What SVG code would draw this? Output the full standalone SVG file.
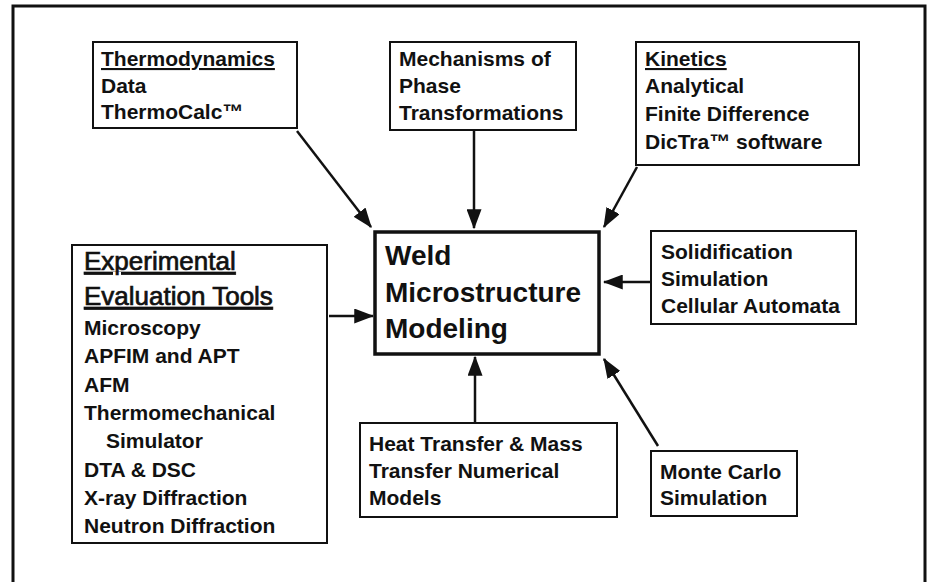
<svg xmlns="http://www.w3.org/2000/svg" width="931" height="582" viewBox="0 0 931 582">
<defs>
<style>
.box{fill:#fff;stroke:#111;stroke-width:2}
.main{fill:#fff;stroke:#111;stroke-width:3.5}
.t{font-family:"Liberation Sans",Arial,sans-serif;font-weight:bold;font-size:21px;fill:#111}
.big{font-family:"Liberation Sans",Arial,sans-serif;font-weight:bold;font-size:28px;fill:#111}
.hdr{font-family:"Liberation Sans",Arial,sans-serif;font-weight:normal;font-size:26px;fill:#111;stroke:#111;stroke-width:0.7}
.c{stroke:#111;stroke-width:2.5;fill:none;marker-end:url(#ah)}
</style>
<marker id="ah" markerWidth="8" markerHeight="6" refX="7.5" refY="3" orient="auto" markerUnits="strokeWidth">
<path d="M0,0 L8,3 L0,6 Z" fill="#111"/>
</marker>
</defs>
<rect width="931" height="582" fill="#fff"/>
<g id="frame">
<path d="M13,582 L13,6 L925,6 L925,582" fill="none" stroke="#111" stroke-width="3"/>
</g>
<g id="connectors">
<line class="c" x1="297" y1="131" x2="371" y2="227"/>
<line class="c" x1="474" y1="130" x2="474" y2="228"/>
<line class="c" x1="637" y1="167" x2="604" y2="227"/>
<line class="c" x1="651" y1="282" x2="604" y2="282"/>
<line class="c" x1="329" y1="316" x2="373" y2="316"/>
<line class="c" x1="475" y1="422" x2="475" y2="357"/>
<line class="c" x1="658" y1="446" x2="604" y2="359"/>
</g>
<g id="thermodynamics">
<rect class="box" x="93" y="42" width="204" height="86"/>
<text class="t" x="101" y="66" text-decoration="underline">Thermodynamics</text>
<text class="t" x="101" y="93">Data</text>
<text class="t" x="101" y="119">ThermoCalc™</text>
</g>
<g id="mechanisms">
<rect class="box" x="390" y="42" width="186" height="88"/>
<text class="t" x="399" y="66">Mechanisms of</text>
<text class="t" x="399" y="93">Phase</text>
<text class="t" x="399" y="120">Transformations</text>
</g>
<g id="kinetics">
<rect class="box" x="636" y="42" width="223" height="123"/>
<text class="t" x="645" y="66" text-decoration="underline">Kinetics</text>
<text class="t" x="645" y="93">Analytical</text>
<text class="t" x="645" y="121">Finite Difference</text>
<text class="t" x="645" y="149">DicTra™ software</text>
</g>
<g id="weld">
<rect class="main" x="375" y="232" width="224" height="122"/>
<text class="big" x="385" y="265">Weld</text>
<text class="big" x="385" y="302">Microstructure</text>
<text class="big" x="385" y="338">Modeling</text>
</g>
<g id="solidification">
<rect class="box" x="651" y="231" width="205" height="93"/>
<text class="t" x="661" y="259">Solidification</text>
<text class="t" x="661" y="286">Simulation</text>
<text class="t" x="661" y="313">Cellular Automata</text>
</g>
<g id="experimental">
<rect class="box" x="72" y="245" width="255" height="298"/>
<text class="hdr" x="84" y="270" text-decoration="underline">Experimental</text>
<text class="hdr" x="84" y="305" text-decoration="underline">Evaluation Tools</text>
<text class="t" x="84" y="335">Microscopy</text>
<text class="t" x="84" y="363">APFIM and APT</text>
<text class="t" x="84" y="392">AFM</text>
<text class="t" x="84" y="420">Thermomechanical</text>
<text class="t" x="106" y="448">Simulator</text>
<text class="t" x="84" y="477">DTA &amp; DSC</text>
<text class="t" x="84" y="505">X-ray Diffraction</text>
<text class="t" x="84" y="533">Neutron Diffraction</text>
</g>
<g id="heat-transfer">
<rect class="box" x="360" y="423" width="257" height="94"/>
<text class="t" x="369" y="451">Heat Transfer &amp; Mass</text>
<text class="t" x="369" y="478">Transfer Numerical</text>
<text class="t" x="369" y="505">Models</text>
</g>
<g id="monte-carlo">
<rect class="box" x="651" y="451" width="146" height="65"/>
<text class="t" x="660" y="479">Monte Carlo</text>
<text class="t" x="660" y="505">Simulation</text>
</g>
</svg>
